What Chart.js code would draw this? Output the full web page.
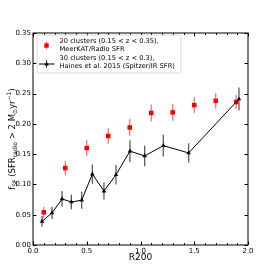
<!DOCTYPE html>
<html>
<head>
<meta charset="utf-8">
<script src="https://cdn.jsdelivr.net/npm/chart.js@4"></script>
<style>
  html, body { margin: 0; padding: 0; background: #fff; }
  #wrap { width: 275px; height: 275px; }
</style>
</head>
<body>
<div id="wrap"><canvas id="chart" width="275" height="275"></canvas></div>
<script>
// MeerKAT / radio SFR
const redX = [0.1, 0.3, 0.5, 0.7, 0.9, 1.1, 1.3, 1.5, 1.7, 1.89];
const redY = [0.054, 0.127, 0.160, 0.180, 0.194, 0.218, 0.219, 0.231, 0.238, 0.236];
const redErr = [0.009, 0.012, 0.013, 0.013, 0.014, 0.014, 0.014, 0.013, 0.013, 0.012];

// Haines et al. 2015 (Spitzer/IR SFR)
const blackX = [0.084, 0.177, 0.27, 0.357, 0.453, 0.552, 0.66, 0.772, 0.902, 1.039, 1.212, 1.448, 1.916];
const blackY = [0.039, 0.053, 0.076, 0.071, 0.074, 0.117, 0.089, 0.116, 0.155, 0.147, 0.164, 0.152, 0.241];
const blackErr = [0.009, 0.010, 0.013, 0.012, 0.014, 0.016, 0.014, 0.016, 0.018, 0.017, 0.018, 0.016, 0.019];

const legendLines = [
  ['20 clusters (0.15 < z < 0.35),', 'MeerKAT/Radio SFR'],
  ['30 clusters (0.15 < z < 0.3),', 'Haines et al. 2015 (Spitzer/IR SFR)']
];

const FONT = '"DejaVu Sans", sans-serif';

function pts(xs, ys) {
  return xs.map((x, i) => ({ x: x, y: ys[i] }));
}

const errorBars = {
  id: 'errorBars',
  beforeDatasetsDraw(chart) {
    const ctx = chart.ctx;
    const xs = chart.scales.x, ys = chart.scales.y;
    ctx.save();
    ctx.lineWidth = 1.2;
    ctx.strokeStyle = 'rgba(255,0,0,0.6)';
    redX.forEach((x, i) => {
      const px = xs.getPixelForValue(x);
      ctx.beginPath();
      ctx.moveTo(px, ys.getPixelForValue(redY[i] - redErr[i]));
      ctx.lineTo(px, ys.getPixelForValue(redY[i] + redErr[i]));
      ctx.stroke();
    });
    ctx.strokeStyle = 'rgba(0,0,0,0.7)';
    blackX.forEach((x, i) => {
      const px = xs.getPixelForValue(x);
      ctx.beginPath();
      ctx.moveTo(px, ys.getPixelForValue(blackY[i] - blackErr[i]));
      ctx.lineTo(px, ys.getPixelForValue(blackY[i] + blackErr[i]));
      ctx.stroke();
    });
    ctx.restore();
  }
};

const frame = {
  id: 'frame',
  afterDraw(chart) {
    const ctx = chart.ctx;
    const a = chart.chartArea;
    const xs = chart.scales.x, ys = chart.scales.y;
    ctx.save();
    ctx.strokeStyle = '#000';
    ctx.lineWidth = 1;
    ctx.strokeRect(a.left, a.top, a.right - a.left, a.bottom - a.top);

    // inward ticks on all four sides
    ctx.beginPath();
    for (let v = 0; v <= 20; v++) {
      const px = Math.round(xs.getPixelForValue(v / 10)) + 0.5;
      const len = v % 5 === 0 ? 3.5 : 2;
      ctx.moveTo(px, a.bottom); ctx.lineTo(px, a.bottom - len);
      ctx.moveTo(px, a.top); ctx.lineTo(px, a.top + len);
    }
    for (let v = 0; v <= 7; v++) {
      const py = Math.round(ys.getPixelForValue(v * 0.05)) + 0.5;
      ctx.moveTo(a.left, py); ctx.lineTo(a.left + 3.5, py);
      ctx.moveTo(a.right, py); ctx.lineTo(a.right - 3.5, py);
    }
    ctx.stroke();

    // x title
    ctx.fillStyle = '#000';
    ctx.font = '9px ' + FONT;
    ctx.textAlign = 'center';
    ctx.textBaseline = 'middle';
    ctx.fillText('R200', (a.left + a.right) / 2, 257.5);

    // y title with sub/superscripts
    const parts = [
      ['f', 0], ['SF', 1], [' (SFR', 0], ['radio', 1], [' > 2 M', 0], ['\u2299', 1], ['yr', 0], ['\u22121', 2], [')', 0]
    ];
    const big = 8.5, small = 6;
    let total = 0;
    parts.forEach(p => {
      ctx.font = (p[1] ? small : big) + 'px ' + FONT;
      total += ctx.measureText(p[0]).width;
    });
    ctx.translate(15, (a.top + a.bottom) / 2);
    ctx.rotate(-Math.PI / 2);
    ctx.textAlign = 'left';
    ctx.textBaseline = 'alphabetic';
    let cx = -total / 2;
    parts.forEach(p => {
      ctx.font = (p[1] ? small : big) + 'px ' + FONT;
      const dy = p[1] === 1 ? 2 : (p[1] === 2 ? -4 : 0);
      ctx.fillText(p[0], cx, dy);
      cx += ctx.measureText(p[0]).width;
    });
    ctx.restore();

    // legend
    ctx.save();
    const lx = 37, ly = 35, lw = 144, lh = 38;
    ctx.fillStyle = 'rgba(255,255,255,0.8)';
    ctx.strokeStyle = '#d0d0d0';
    ctx.lineWidth = 0.8;
    ctx.beginPath();
    ctx.roundRect(lx, ly, lw, lh, 2);
    ctx.fill();
    ctx.stroke();

    ctx.fillStyle = '#000';
    ctx.font = '6.7px ' + FONT;
    ctx.textAlign = 'left';
    ctx.textBaseline = 'middle';
    ctx.fillText(legendLines[0][0], 59.5, 41.5);
    ctx.fillText(legendLines[0][1], 59.5, 49);
    ctx.fillText(legendLines[1][0], 59.5, 58.5);
    ctx.fillText(legendLines[1][1], 59.5, 66);

    // red marker
    ctx.strokeStyle = 'rgba(255,0,0,0.6)';
    ctx.lineWidth = 1.2;
    ctx.beginPath(); ctx.moveTo(46.5, 41.5); ctx.lineTo(46.5, 49.5); ctx.stroke();
    ctx.fillStyle = '#ff0000';
    ctx.fillRect(44.3, 43.3, 4.4, 4.4);
    // black marker
    ctx.strokeStyle = '#000';
    ctx.lineWidth = 1;
    ctx.beginPath(); ctx.moveTo(39, 64); ctx.lineTo(54.5, 64); ctx.stroke();
    ctx.strokeStyle = 'rgba(0,0,0,0.7)';
    ctx.lineWidth = 1.2;
    ctx.beginPath(); ctx.moveTo(46.5, 60); ctx.lineTo(46.5, 68); ctx.stroke();
    ctx.fillStyle = '#000';
    ctx.beginPath();
    ctx.moveTo(46.5, 61.8); ctx.lineTo(48.8, 65.6); ctx.lineTo(44.2, 65.6); ctx.closePath();
    ctx.fill();
    ctx.restore();
  }
};

new Chart(document.getElementById('chart'), {
  type: 'scatter',
  data: {
    datasets: [
      {
        label: 'Haines et al. 2015',
        data: pts(blackX, blackY),
        showLine: true,
        borderColor: '#000',
        borderWidth: 1,
        backgroundColor: '#000',
        pointStyle: 'triangle',
        pointRadius: 2.6,
        pointBorderWidth: 0,
        order: 0
      },
      {
        label: 'MeerKAT',
        data: pts(redX, redY),
        showLine: false,
        backgroundColor: '#ff0000',
        borderColor: '#ff0000',
        pointStyle: 'rect',
        pointRadius: 3.2,
        pointBorderWidth: 0,
        order: 1
      }
    ]
  },
  options: {
    responsive: false,
    animation: false,
    devicePixelRatio: 1,
    layout: { padding: { top: 33, right: 27, left: 0, bottom: 0 } },
    plugins: { legend: { display: false }, tooltip: { enabled: false } },
    scales: {
      x: {
        type: 'linear',
        min: 0, max: 2,
        border: { display: false },
        grid: { display: false, drawTicks: false },
        ticks: {
          stepSize: 0.5,
          padding: 2,
          color: '#000',
          font: { family: FONT, size: 7 },
          maxRotation: 0,
          callback: v => v.toFixed(1)
        },
        afterFit: s => { s.height = 30; }
      },
      y: {
        type: 'linear',
        min: 0, max: 0.35,
        border: { display: false },
        grid: { display: false, drawTicks: false },
        ticks: {
          stepSize: 0.05,
          padding: 2,
          color: '#000',
          font: { family: FONT, size: 7 },
          callback: v => v.toFixed(2)
        },
        afterFit: s => { s.width = 33; }
      }
    }
  },
  plugins: [errorBars, frame]
});
</script>
</body>
</html>
